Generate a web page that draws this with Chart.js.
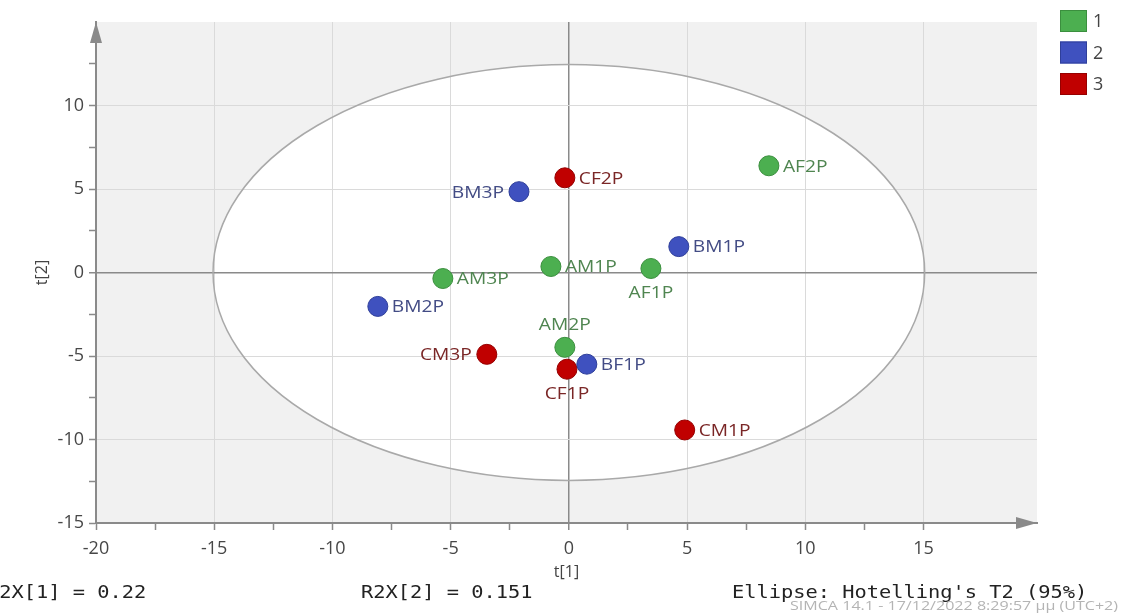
<!DOCTYPE html>
<html>
<head>
<meta charset="utf-8">
<script src="https://cdn.jsdelivr.net/npm/chart.js@4.4.1/dist/chart.umd.min.js"></script>
<style>
  html, body { margin: 0; padding: 0; background: #ffffff; overflow: hidden; }
  canvas { display: block; }
</style>
</head>
<body>
<canvas id="scores" width="1121" height="614"></canvas>
<script>
// PCA score values per sample (t[1], t[2]) and the class each sample belongs to
const sampleNames  = ['AF2P', 'CF2P', 'BM3P', 'BM1P', 'AM1P', 'AF1P', 'AM3P', 'BM2P', 'AM2P', 'CM3P', 'BF1P', 'CF1P', 'CM1P'];
const t1Scores     = [8.46, -0.17, -2.11, 4.65, -0.76, 3.47, -5.33, -8.08, -0.17, -3.47, 0.76, -0.08, 4.90];
const t2Scores     = [6.39, 5.67, 4.84, 1.55, 0.36, 0.24, -0.36, -2.03, -4.48, -4.90, -5.49, -5.79, -9.43];
const sampleGroups = [1, 3, 2, 2, 1, 1, 1, 2, 1, 3, 2, 3, 3];
const groupNames   = ['1', '2', '3'];

// Hotelling's T2 (95%) ellipse semi-axes in score units
const ellipseAxes = [15.05, 12.45];

// model summary shown under the plot
const r2xValues = [0.22, 0.151];
const ellipseLevel = 95;

// styling
const groupFill   = ['#4caf50', '#3f51bf', '#c00000'];
const groupBorder = ['#3b8f3e', '#2f3f9a', '#960000'];
const groupText   = ['#4f8550', '#434c85', '#7a2626'];
const labelSide = { BM3P: 'left', CM3P: 'left', AF1P: 'below', AM2P: 'above', CF1P: 'below' };

const axisGray = '#8a8a8a';
const tickFont = { family: 'Open Sans', size: 18 };

const datasets = groupNames.map((name, g) => ({
  label: name,
  data: sampleNames
    .map((s, i) => ({ x: t1Scores[i], y: t2Scores[i], name: s, grp: sampleGroups[i] }))
    .filter(p => p.grp === g + 1),
  backgroundColor: groupFill[g],
  borderColor: groupBorder[g],
  borderWidth: 1,
  pointRadius: 10,
  pointHoverRadius: 10
}));

const isMajor = v => Math.abs(v / 5 - Math.round(v / 5)) < 1e-6;

function keepSteps(scale, limit) {
  scale.ticks = scale.ticks.filter(t =>
    Math.abs(t.value / 2.5 - Math.round(t.value / 2.5)) < 1e-6 && t.value < limit);
}

// plot backdrop and the confidence ellipse
const backdrop = {
  id: 'backdrop',
  beforeDraw(chart) {
    const { ctx, chartArea: a, scales: { x, y } } = chart;
    ctx.save();
    ctx.fillStyle = '#f1f1f1';
    ctx.fillRect(a.left, a.top, a.right - a.left, a.bottom - a.top);
    const cx = x.getPixelForValue(0), cy = y.getPixelForValue(0);
    const rx = x.getPixelForValue(ellipseAxes[0]) - cx;
    const ry = cy - y.getPixelForValue(ellipseAxes[1]);
    ctx.beginPath();
    ctx.ellipse(cx, cy, rx, ry, 0, 0, Math.PI * 2);
    ctx.fillStyle = '#ffffff';
    ctx.fill();
    ctx.restore();
  },
  beforeDatasetsDraw(chart) {
    const { ctx, chartArea: a, scales: { x, y } } = chart;
    ctx.save();
    const cx = x.getPixelForValue(0), cy = y.getPixelForValue(0);
    const rx = x.getPixelForValue(ellipseAxes[0]) - cx;
    const ry = cy - y.getPixelForValue(ellipseAxes[1]);
    ctx.beginPath();
    ctx.ellipse(cx, cy, rx, ry, 0, 0, Math.PI * 2);
    ctx.strokeStyle = '#a9a9a9';
    ctx.lineWidth = 1.5;
    ctx.stroke();
    // arrow heads on both axes
    ctx.fillStyle = axisGray;
    ctx.beginPath();
    ctx.moveTo(a.left, a.top);
    ctx.lineTo(a.left - 6, a.top + 21);
    ctx.lineTo(a.left + 6, a.top + 21);
    ctx.closePath();
    ctx.fill();
    ctx.beginPath();
    ctx.moveTo(a.right, a.bottom);
    ctx.lineTo(a.right - 21, a.bottom - 6);
    ctx.lineTo(a.right - 21, a.bottom + 6);
    ctx.closePath();
    ctx.fill();
    ctx.restore();
  }
};

function stretched(ctx, text, x, y, sx, align) {
  ctx.save();
  ctx.translate(x, y);
  ctx.scale(sx, 1);
  ctx.textAlign = align;
  ctx.fillText(text, 0, 0);
  ctx.restore();
}

// sample names next to their points
const pointNames = {
  id: 'pointNames',
  afterDatasetsDraw(chart) {
    const ctx = chart.ctx;
    ctx.save();
    ctx.font = '17px "Open Sans"';
    ctx.textBaseline = 'middle';
    chart.data.datasets.forEach((ds, g) => {
      const meta = chart.getDatasetMeta(g);
      ctx.fillStyle = groupText[g];
      ds.data.forEach((p, i) => {
        const el = meta.data[i];
        const side = labelSide[p.name] || 'right';
        if (side === 'right') stretched(ctx, p.name, el.x + 14, el.y + 1, 1.13, 'left');
        else if (side === 'left') stretched(ctx, p.name, el.x - 15, el.y + 1, 1.13, 'right');
        else if (side === 'below') stretched(ctx, p.name, el.x, el.y + 25, 1.13, 'center');
        else stretched(ctx, p.name, el.x, el.y - 22, 1.13, 'center');
      });
    });
    ctx.restore();
  }
};

// class legend in the top right corner
const classKey = {
  id: 'classKey',
  afterDraw(chart) {
    const ctx = chart.ctx;
    ctx.save();
    ctx.font = '18px "Open Sans"';
    ctx.textBaseline = 'middle';
    chart.data.datasets.forEach((ds, g) => {
      const top = 10 + g * 31.5;
      ctx.fillStyle = ds.backgroundColor;
      ctx.fillRect(1060, top, 27, 22);
      ctx.strokeStyle = ds.borderColor;
      ctx.lineWidth = 1;
      ctx.strokeRect(1060.5, top + 0.5, 26, 21);
      ctx.fillStyle = '#444444';
      ctx.fillText(ds.label, 1093, top + 12);
    });
    ctx.restore();
  }
};

// model statistics and stamp below the plot
const footer = {
  id: 'footer',
  afterDraw(chart) {
    const ctx = chart.ctx;
    ctx.save();
    ctx.font = '17px "DejaVu Sans Mono"';
    ctx.fillStyle = '#222222';
    ctx.textBaseline = 'middle';
    const sx = 12.25 / ctx.measureText('0').width;
    stretched(ctx, 'R2X[1] = ' + r2xValues[0], -13, 594, sx, 'left');
    stretched(ctx, 'R2X[2] = ' + r2xValues[1], 361, 594, sx, 'left');
    stretched(ctx, "Ellipse: Hotelling's T2 (" + ellipseLevel + '%)', 732, 594, sx, 'left');
    ctx.font = '13px "Open Sans"';
    ctx.fillStyle = '#b4b4b4';
    const stamp = 'SIMCA 14.1 - 17/12/2022 8:29:57 μμ (UTC+2)';
    const ssx = 328 / ctx.measureText(stamp).width;
    stretched(ctx, stamp, 790, 606, ssx, 'left');
    ctx.restore();
  }
};

new Chart(document.getElementById('scores'), {
  type: 'scatter',
  data: { datasets },
  options: {
    responsive: false,
    animation: false,
    events: [],
    layout: { padding: { top: 22, right: 84, bottom: 0, left: 0 } },
    plugins: { legend: { display: false }, tooltip: { enabled: false } },
    scales: {
      x: {
        type: 'linear',
        min: -20,
        max: 19.8,
        afterBuildTicks: s => keepSteps(s, 19),
        afterFit: s => { s.height = 91; },
        ticks: {
          stepSize: 2.5,
          autoSkip: false,
          maxRotation: 0,
          padding: 8,
          color: '#474747',
          font: tickFont,
          callback: v => (isMajor(v) ? String(v) : '')
        },
        grid: {
          color: c => (c.tick && c.tick.value === 0 ? axisGray : (c.tick && isMajor(c.tick.value) && c.tick.value !== -20 ? '#dadada' : 'rgba(0,0,0,0)')),
          lineWidth: c => (c.tick && c.tick.value === 0 ? 1.5 : 1),
          tickColor: axisGray,
          tickLength: 7,
          tickWidth: 1.5
        },
        border: { color: axisGray, width: 2 },
        title: {
          display: true,
          text: 't[1]',
          color: '#444444',
          font: { family: 'Open Sans', size: 16 },
          padding: { top: 0, bottom: 32 }
        }
      },
      y: {
        type: 'linear',
        min: -15,
        max: 15,
        afterBuildTicks: s => keepSteps(s, 14),
        afterFit: s => { s.width = 96; },
        ticks: {
          stepSize: 2.5,
          autoSkip: false,
          padding: 5,
          color: '#474747',
          font: tickFont,
          callback: v => (isMajor(v) ? String(v) : '')
        },
        grid: {
          color: c => (c.tick && c.tick.value === 0 ? axisGray : (c.tick && isMajor(c.tick.value) && c.tick.value !== -15 ? '#dadada' : 'rgba(0,0,0,0)')),
          lineWidth: c => (c.tick && c.tick.value === 0 ? 1.5 : 1),
          tickColor: axisGray,
          tickLength: 7,
          tickWidth: 1.5
        },
        border: { color: axisGray, width: 2 },
        title: {
          display: true,
          text: 't[2]',
          color: '#444444',
          font: { family: 'Open Sans', size: 16 },
          padding: { top: 33, bottom: 0 }
        }
      }
    }
  },
  plugins: [backdrop, pointNames, classKey, footer]
});
</script>
</body>
</html>
